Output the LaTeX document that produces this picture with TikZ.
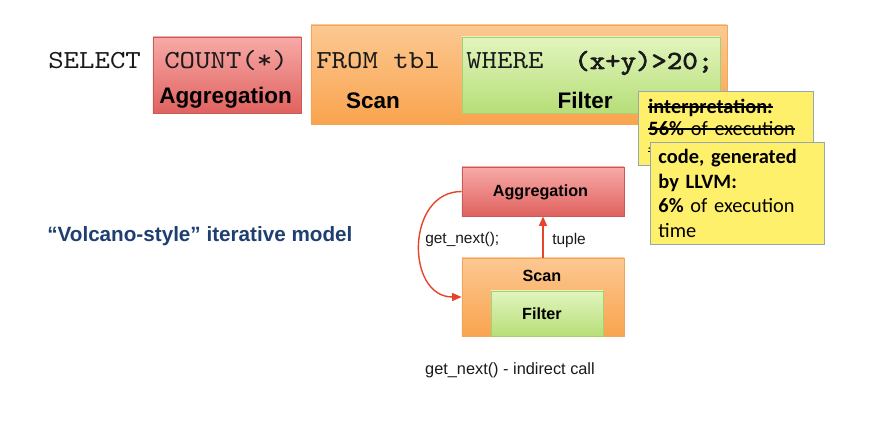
\documentclass[tikz,border=0pt]{standalone}
\usepackage{fontspec}
\setmainfont{Liberation Sans}
\setsansfont{Liberation Sans}
\newfontfamily\sqlfont[FakeStretch=1.13]{lmmono10-regular.otf}
\newfontfamily\sqlbold[FakeStretch=1.13,FakeBold=2.5]{lmmono10-regular.otf}
\newfontfamily\notefont{Carlito}
\newsavebox\strkbox
\newcommand{\strk}[1]{\leavevmode\sbox\strkbox{#1}\rlap{\rule[0.27em]{\wd\strkbox}{1.1pt}}\usebox\strkbox}
\usepackage{tikz}
\usetikzlibrary{arrows.meta,positioning}
\definecolor{redtop}{HTML}{F7AAA7}
\definecolor{redbot}{HTML}{E0625F}
\definecolor{redline}{HTML}{C95A58}
\definecolor{orgtop}{HTML}{FCC892}
\definecolor{orgbot}{HTML}{F9A44E}
\definecolor{orgline}{HTML}{F2A65C}
\definecolor{grntop}{HTML}{E2F5BE}
\definecolor{grnbot}{HTML}{B6DE78}
\definecolor{grnline}{HTML}{A9CF73}
\definecolor{notefill}{HTML}{FFF06B}
\definecolor{noteline}{HTML}{93A8B2}
\definecolor{volcblue}{HTML}{1F3F72}
\definecolor{callred}{HTML}{E8432D}
\definecolor{ink}{HTML}{1A1A1A}
\tikzset{
  aggbox/.style={draw=redline,top color=redtop,bottom color=redbot,
                 line width=0.5pt,inner sep=0pt},
  scanbox/.style={draw=orgline,top color=orgtop,bottom color=orgbot,
                  line width=0.5pt,inner sep=0pt},
  filtbox/.style={draw=grnline,top color=grntop,bottom color=grnbot,
                  line width=0.5pt,inner sep=0pt},
  notebox/.style={draw=noteline,fill=notefill,line width=0.6pt,
                  align=left,inner ysep=2pt,
                  font=\notefont\fontsize{14.5}{17.7}\selectfont},
  sqltxt/.style={font=\sqlfont\fontsize{18.5}{20}\selectfont,inner sep=0pt,
                 anchor=base west,text=ink},
  optxt/.style={font=\sffamily\bfseries\fontsize{16}{18}\selectfont,
                inner sep=0pt,anchor=base},
  smallop/.style={font=\sffamily\bfseries\fontsize{11.5}{13}\selectfont,
                  inner sep=0pt},
  calltxt/.style={font=\sffamily\fontsize{11}{13}\selectfont,inner sep=0pt,
                  text=ink},
  callarr/.style={-{Triangle[length=2.4mm,width=2mm]},line width=1pt,
                  color=callred}
}

\begin{document}
\begin{tikzpicture}[x=0.025cm,y=-0.025cm]
  \useasboundingbox[fill=white] (0,0) rectangle (881,431);
  % query line
  \node[aggbox,minimum width=3.7cm,minimum height=1.9cm] (aggq) at (227,75) {};
  \node[scanbox,minimum width=10.4cm,minimum height=2.475cm] (scanq) at (519,74.5) {};
  \node[filtbox,minimum width=6.45cm,minimum height=1.9cm] (filtq) at (591,75) {};
  \node[sqltxt] (select) at (48,69) {SELECT};
  \node[sqltxt] (count) at (164,69) {COUNT(*)};
  \node[sqltxt] (from) at (316,69) {FROM tbl};
  \node[sqltxt] (where) at (466,69) {WHERE~~{\sqlbold(x+y)>20;}};
  \node[optxt] (aggname) at (225.5,104) {Aggregation};
  \node[optxt] (scanname) at (373,109) {Scan};
  \node[optxt] (filtname) at (585,109) {Filter};
  % notes
  \node[notebox,anchor=north west,text width=3.875cm,inner xsep=0.25cm,
        font=\notefont\fontsize{14.5}{15.8}\selectfont,
        minimum height=1.85cm] (interp) at (638,91)
    {\strk{\textbf{interpretation:}}\\ \strk{\textbf{56\%} of execution}\\ \strk{time}};
  \node[notebox,anchor=north west,text width=3.95cm,inner xsep=0.2cm,
        minimum height=2.55cm] (llvm) at (650,142)
    {\textbf{code, generated}\\ \textbf{by LLVM:}\\ \textbf{6\%} of execution\\ time};
  % volcano model
  \node[font=\sffamily\bfseries\fontsize{14.7}{17}\selectfont,text=volcblue,
        anchor=west,inner sep=0pt] (volcano) at (47,236)
    {``Volcano-style'' iterative model};
  \node[aggbox,minimum width=4.05cm,minimum height=1.225cm] (agg) at (543,191.5) {};
  \node[scanbox,minimum width=4.05cm,minimum height=1.95cm] (scan) at (543,297) {};
  \node[filtbox,minimum width=2.8cm,minimum height=1.125cm] (filt) at (547,313.5) {};
  \node[smallop] (aggl) at (540.5,192) {Aggregation};
  \node[smallop] (scanl) at (542,276) {Scan};
  \node[smallop] (filtl) at (542,314) {Filter};
  \draw[callarr] (scan.north) -- (agg.south);
  \draw[callarr] (agg.west) to[out=180,in=180,distance=1.4cm] (scan.west);
  \node[calltxt,anchor=west] (getnext) at (425,240) {get\_next();};
  \node[calltxt,anchor=west] (tuple) at (552,241) {tuple};
  \node[calltxt,font=\sffamily\fontsize{11.6}{13}\selectfont] (indirect) at (510,370)
    {get\_next() - indirect call};
\end{tikzpicture}
\end{document}
